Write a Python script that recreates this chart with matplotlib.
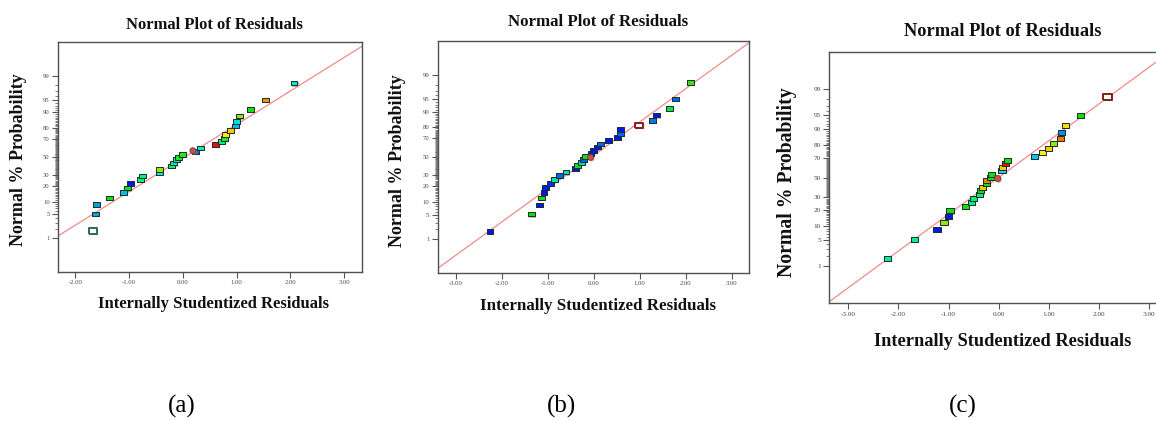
import matplotlib
matplotlib.use("Agg")
import matplotlib.pyplot as plt
import matplotlib.patheffects as pe
import numpy as np
from statistics import NormalDist

# ---- data: residual, normal % probability ----
res_a = [-1.67, -1.63, -1.60, -1.37, -1.11, -1.03, -0.98, -0.79, -0.755, -0.433,
         -0.433, -0.21, -0.173, -0.118, -0.087, 0.0, 0.186, 0.241, 0.328, 0.606,
         0.724, 0.78, 0.79, 0.879, 0.978, 0.996, 1.05, 1.256, 1.535, 2.067]
prob_a = [1.7, 5.1, 8.5, 12.0, 15.4, 18.6, 22.3, 25.7, 29.4, 32.8,
          36.3, 39.8, 43.1, 46.8, 49.8, 53.1, 57.2, 56.6, 60.3, 63.8,
          67.1, 70.5, 74.0, 77.6, 81.3, 84.5, 88.0, 91.3, 94.9, 98.3]
col_a = ['white', '#00a0e0', '#00a0e0', '#10e010', '#00c0e8', '#10e010', '#0018e0',
         '#00f080', '#00f080', '#00e8d0', '#90e800', '#10f070', '#00f0a0', '#00e8e0',
         '#20e820', '#20e820', '#c85050', '#0070e0', '#00f0a0', '#e81010', '#00f090',
         '#20e820', '#f0f000', '#f8c800', '#00b8f0', '#00e0e0', '#90e800', '#10e010',
         '#f89000', '#00e8d0']

res_b = [-2.254, -1.348, -1.174, -1.138, -1.08, -1.043, -0.942, -0.855, -0.746, -0.601,
         -0.391, -0.341, -0.261, -0.225, -0.181, -0.065, -0.058, 0.0, 0.087, 0.152,
         0.326, 0.522, 0.587, 0.594, 0.986, 1.275, 1.37, 1.645, 1.775, 2.101]
prob_b = [1.7, 5.2, 8.6, 12.1, 15.6, 19.1, 22.6, 26.1, 29.8, 33.2,
          36.7, 40.2, 43.6, 47.2, 50.6, 49.4, 54.0, 57.4, 60.9, 64.3,
          67.8, 71.1, 74.6, 77.9, 81.3, 84.8, 88.2, 91.6, 95.0, 98.3]
col_b = ['#0018e8', '#10e010', '#0018e8', '#10e010', '#0018e8', '#0018e8', '#0030e8',
         '#00e0b0', '#0068e8', '#00e0b0', '#0018e8', '#10e010', '#00e0b0', '#0060e8',
         '#10e010', '#c85050', '#0018e8', '#0018e8', '#0018e8', '#0068e8', '#0018e8',
         '#0018e8', '#0068e8', '#0018e8', 'white', '#0078e8', '#0018e8', '#10e040',
         '#0068e8', '#40e010']

res_c = [-2.222, -1.677, -1.231, -1.091, -1.005, -0.971, -0.665, -0.546, -0.499, -0.386,
         -0.359, -0.319, -0.24, -0.246, -0.02, -0.153, -0.14, 0.067, 0.073, 0.133,
         0.173, 0.719, 0.878, 0.991, 1.091, 1.238, 1.258, 1.337, 1.63, 2.169]
prob_c = [1.7, 5.2, 8.6, 12.1, 15.6, 19.0, 22.6, 26.0, 29.5, 33.1,
          36.2, 40.0, 43.4, 46.9, 49.0, 50.3, 53.5, 57.2, 60.6, 64.2,
          67.4, 70.8, 74.5, 77.9, 81.2, 84.6, 88.0, 91.4, 94.9, 98.3]
col_c = ['#00f090', '#00f090', '#0018e8', '#90e800', '#0018e8', '#10e010', '#10e010',
         '#00f080', '#00f080', '#00f080', '#10e010', '#f8c800', '#10e010', '#f88000',
         '#c85050', '#10e010', '#10e010', '#00d8f0', '#f8c800', '#f01010', '#10e010',
         '#00c8f0', '#f8f000', '#f8d000', '#90e800', '#f87000', '#0090f0', '#f8e000',
         '#10e010', 'white']

# fitted normal line, two points (residual, %)
line_a = [(-1.0, 16.0), (2.0, 97.1)]
line_b = [(-2.0, 3.2), (2.0, 97.35)]
line_c = [(-2.0, 2.7), (2.0, 97.3)]

# which point is drawn as a round marker / hollow marker
round_idx = {'a': 16, 'b': 15, 'c': 14}
hollow = {'a': (0, '#2a6a5a'), 'b': (24, '#901818'), 'c': (29, '#802010')}

major_p = [1, 5, 10, 20, 30, 50, 70, 80, 90, 95, 99]
minor_p = [p for p in range(1, 100) if p not in major_p]

_nd = NormalDist()
_ppf = np.vectorize(_nd.inv_cdf, otypes=[float])
_cdf = np.vectorize(_nd.cdf, otypes=[float])


def fwd(p):
    p = np.clip(np.asarray(p, float), 1e-7, 100 - 1e-7)
    return _ppf(p / 100.0)


def inv(z):
    return _cdf(np.asarray(z, float)) * 100.0


SERIF = 'Liberation Serif'
rect = [(-1.3, -0.9), (1.3, -0.9), (1.3, 0.9), (-1.3, 0.9), (-1.3, -0.9)]
shadow = [pe.SimplePatchShadow(offset=(0.8, -0.8), shadow_rgbFace='#909090', alpha=0.6), pe.Normal()]

fig = plt.figure(figsize=(11.56, 4.21), dpi=100)
W, H = 1156.0, 421.0


def panel(key, box, xlim, xticks, res, prob, cols, line, fs):
    l, t, r, b = box
    ax = fig.add_axes([l / W, 1 - b / H, (r - l) / W, (b - t) / H])
    ax.set_yscale('function', functions=(fwd, inv))
    ax.set_xlim(*xlim)
    ax.set_ylim(inv(-3.3), inv(3.3))
    ax.axline(line[0], line[1], color='#f28a8a', lw=0.9, zorder=1)

    res = np.asarray(res)
    prob = np.asarray(prob)
    cols = np.asarray(cols, dtype=object)
    ri = round_idx[key]
    hi, hcol = hollow[key]
    sq = [i for i in range(len(res)) if i not in (ri, hi)]
    ax.scatter(res[sq], prob[sq], s=fs['ms'], marker=rect, c=list(cols[sq]),
               edgecolors='#1c2c2c', linewidths=0.7, zorder=3, path_effects=shadow)
    ax.scatter([res[ri]], [prob[ri]], s=fs['ms'] * 0.75, marker='o', c=[cols[ri]],
               edgecolors='#803030', linewidths=0.6, zorder=3, path_effects=shadow)
    ax.scatter([res[hi]], [prob[hi]], s=fs['ms'] * 1.35, marker=rect, c='white',
               edgecolors=hcol, linewidths=1.4, zorder=4, path_effects=shadow)

    ax.set_yticks(major_p)
    ax.set_yticklabels([str(p) for p in major_p])
    ax.set_yticks(minor_p, minor=True)
    ax.set_xticks(xticks)
    ax.set_xticklabels(['%.2f' % v for v in xticks])
    ax.tick_params(which='major', length=4, width=0.8, color='#555555', direction='out',
                   labelsize=fs['tick'], labelcolor='#3a4a5a', pad=2)
    ax.tick_params(which='minor', length=2.2, width=0.6, color='#666666', direction='out')
    ax.tick_params(axis='x', which='minor', bottom=False)
    for lab in ax.get_xticklabels() + ax.get_yticklabels():
        lab.set_family(SERIF)
    for s in ax.spines.values():
        s.set_color('#505050')
        s.set_linewidth(1.0)
    return ax


panel('a', (58, 42, 362, 272), (-2.32, 3.33), [-2, -1, 0, 1, 2, 3],
      res_a, prob_a, col_a, line_a, {'ms': 24, 'tick': 4.8})
panel('b', (437.7, 40.7, 749, 273), (-3.39, 3.38), [-3, -2, -1, 0, 1, 2, 3],
      res_b, prob_b, col_b, line_b, {'ms': 24, 'tick': 4.8})
panel('c', (829.3, 51.7, 1168, 303.3), (-3.38, 3.38), [-3, -2, -1, 0, 1, 2, 3],
      res_c, prob_c, col_c, line_c, {'ms': 27, 'tick': 5.2})

texts = [
    # (x, y, text, size, rotation)
    (214, 25, 'Normal Plot of Residuals', 12, 0),
    (598, 22, 'Normal Plot of Residuals', 12.2, 0),
    (1003, 32, 'Normal Plot of Residuals', 13.2, 0),
    (214, 304, 'Internally Studentized Residuals', 12, 0),
    (598, 306, 'Internally Studentized Residuals', 12.2, 0),
    (1003, 341, 'Internally Studentized Residuals', 13.2, 0),
    (19, 160, 'Normal % Probability', 13, 90),
    (398, 161, 'Normal % Probability', 13, 90),
    (787, 182, 'Normal % Probability', 14.2, 90),
]
for x, y, s, size, rot in texts:
    fig.text(x / W, 1 - y / H, s, ha='center', va='center', rotation=rot,
             family=SERIF, weight='bold', fontsize=size, color='#111111')

for x, s in [(182, '(a)'), (561, '(b)'), (963, '(c)')]:
    fig.text(x / W, 1 - 406 / H, s, ha='center', va='center', family=SERIF,
             fontsize=18, color='black')

fig.savefig('out.png', dpi=100)
